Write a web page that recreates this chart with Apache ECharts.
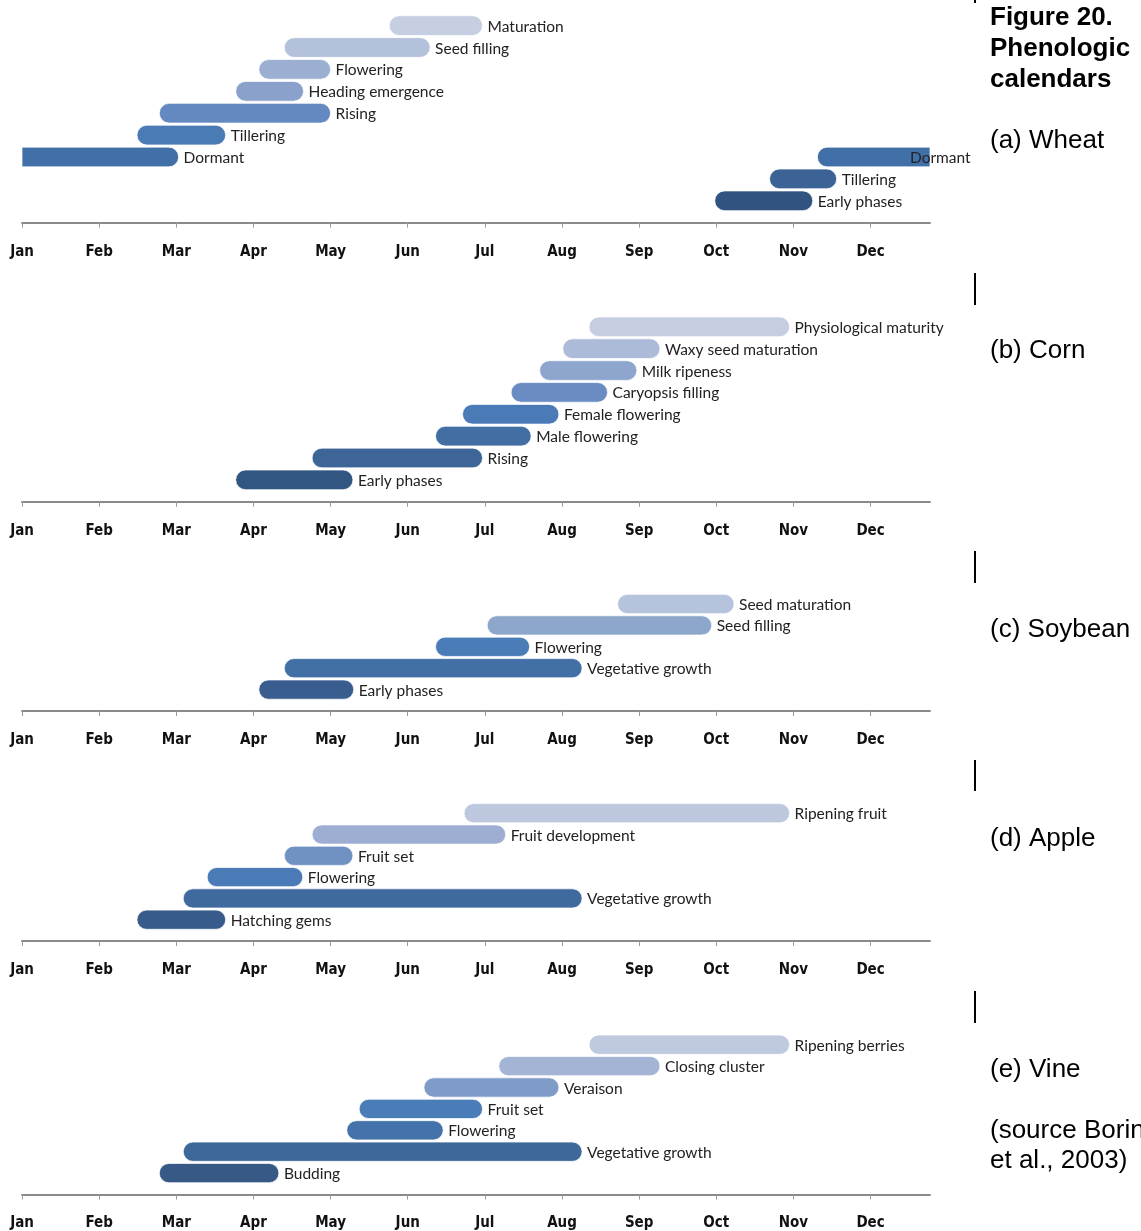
<!DOCTYPE html>
<html>
<head>
<meta charset="utf-8">
<script src="https://cdn.jsdelivr.net/npm/echarts@6/dist/echarts.min.js"></script>
<style>
html, body { margin: 0; padding: 0; background: #fff; }
#main { width: 1141px; height: 1231px; }
</style>
</head>
<body>
<div id="main"></div>
<script>
// tick labels
var months = ["Jan", "Feb", "Mar", "Apr", "May", "Jun", "Jul", "Aug", "Sep", "Oct", "Nov", "Dec"];
var xMax = 11.77; // axis ends a bit before the end of Dec

// phases: start / end in months from 1 Jan, row 0 = bottom row
var wheatNames = ["Early phases", "Tillering", "Dormant", "Dormant", "Tillering", "Rising", "Heading emergence", "Flowering", "Seed filling", "Maturation"];
var wheatStart = [8.98, 9.69, 0, 10.31, 1.49, 1.78, 2.77, 3.07, 3.40, 4.76];
var wheatEnd = [10.25, 10.56, 2.03, 12, 2.64, 4.00, 3.65, 4.00, 5.29, 5.97];
var wheatRow = [0, 1, 2, 2, 3, 4, 5, 6, 7, 8];

var cornNames = ["Early phases", "Rising", "Male flowering", "Female flowering", "Caryopsis filling", "Milk ripeness", "Waxy seed maturation", "Physiological maturity"];
var cornStart = [2.77, 3.76, 5.36, 5.71, 6.34, 6.71, 7.01, 7.35];
var cornEnd = [4.29, 5.97, 6.60, 6.96, 7.59, 7.97, 8.27, 9.95];
var cornRow = [0, 1, 2, 3, 4, 5, 6, 7];

var soyNames = ["Early phases", "Vegetative growth", "Flowering", "Seed filling", "Seed maturation"];
var soyStart = [3.07, 3.40, 5.36, 6.03, 7.72];
var soyEnd = [4.30, 7.26, 6.58, 8.94, 9.23];
var soyRow = [0, 1, 2, 3, 4];

var appleNames = ["Hatching gems", "Vegetative growth", "Flowering", "Fruit set", "Fruit development", "Ripening fruit"];
var appleStart = [1.49, 2.09, 2.40, 3.40, 3.76, 5.73];
var appleEnd = [2.64, 7.26, 3.64, 4.29, 6.27, 9.95];
var appleRow = [0, 1, 2, 3, 4, 5];

var vineNames = ["Budding", "Vegetative growth", "Flowering", "Fruit set", "Veraison", "Closing cluster", "Ripening berries"];
var vineStart = [1.78, 2.09, 4.21, 4.37, 5.21, 6.18, 7.35];
var vineEnd = [3.33, 7.26, 5.46, 5.97, 6.96, 8.27, 9.95];
var vineRow = [0, 1, 2, 3, 4, 5, 6];

// colours (dark at bottom, light at top)
var wheatColors = ["#30547f", "#3b6396", "#416fa8", "#416fa8", "#4a7bb5", "#6389c0", "#8aa2cb", "#9bafd3", "#b4c1db", "#c6cfe2"];
var cornColors = ["#325682", "#3d6597", "#436ea4", "#4a7bb6", "#6a8cc2", "#8ea6cd", "#acbbd8", "#c5cde1"];
var soyColors = ["#3a5d8f", "#4270a6", "#4a7db8", "#8da6cc", "#b6c3dc"];
var appleColors = ["#375b8a", "#3f6a9e", "#4a7bb6", "#7092c3", "#9daed2", "#bdc8de"];
var vineColors = ["#365986", "#3e6899", "#4473ab", "#4a7db8", "#7f9cc8", "#a3b4d4", "#bfc9df"];

var crops = [
  { names: wheatNames, start: wheatStart, end: wheatEnd, row: wheatRow, colors: wheatColors, rows: 9, axisY: 222.7, step: 21.9 },
  { names: cornNames, start: cornStart, end: cornEnd, row: cornRow, colors: cornColors, rows: 8, axisY: 501.7, step: 21.86 },
  { names: soyNames, start: soyStart, end: soyEnd, row: soyRow, colors: soyColors, rows: 5, axisY: 711, step: 21.4 },
  { names: appleNames, start: appleStart, end: appleEnd, row: appleRow, colors: appleColors, rows: 6, axisY: 941, step: 21.3 },
  { names: vineNames, start: vineStart, end: vineEnd, row: vineRow, colors: vineColors, rows: 7, axisY: 1196, step: 21.6 }
];

var labelFont = "15.5px Lato, 'Liberation Sans', sans-serif";
var axisFont = "'DejaVu Sans Condensed', 'Liberation Sans', Arial, sans-serif";

function makeRender(crop) {
  return function (params, api) {
    var s = api.value(0), e = api.value(1), row = api.value(2), i = api.value(3);
    var p0 = api.coord([Math.max(s, 0), row]);
    var p1 = api.coord([Math.min(e, xMax), row]);
    var h = api.size([0, 1])[1] * 0.9;
    var r = h / 2;
    var rl = s <= 0 ? 0 : r;
    var rr = e >= xMax ? 0 : r;
    // clipped bar: label sits over its end
    var lx = e >= xMax ? p1[0] - 20 : p1[0] + 5;
    return {
      type: "group",
      children: [
        {
          type: "rect",
          shape: { x: p0[0], y: p0[1] - h / 2, width: p1[0] - p0[0], height: h, r: [rl, rr, rr, rl] },
          style: { fill: crop.colors[i], stroke: "rgba(255,255,255,0.7)", lineWidth: 1 }
        },
        {
          type: "text",
          x: lx,
          y: p0[1] + 1,
          style: { text: crop.names[i], fill: "#222", font: labelFont, align: "left", verticalAlign: "middle", textAlign: "left", textVerticalAlign: "middle" }
        }
      ]
    };
  };
}

var grids = [], xAxes = [], yAxes = [], series = [];
crops.forEach(function (c, k) {
  var height = (c.rows + 0.5) * c.step;
  grids.push({ left: 22, right: 1141 - 930, top: c.axisY - height, height: height });
  xAxes.push({
    type: "value",
    gridIndex: k,
    min: 0,
    max: xMax,
    interval: 1,
    splitLine: { show: false },
    axisLine: { onZero: false, lineStyle: { color: "#8a8a8a", width: 2 } },
    axisTick: { show: true, length: 5, lineStyle: { color: "#9a9a9a", width: 1 } },
    axisLabel: {
      margin: 21.5,
      color: "#111",
      fontSize: 15,
      fontWeight: "bold",
      fontFamily: axisFont,
      showMaxLabel: false,
      formatter: function (v) { return v % 1 === 0 && months[v] ? months[v] : ""; }
    }
  });
  yAxes.push({ type: "value", gridIndex: k, min: -1, max: c.rows - 0.5, show: false });
  var data = [];
  for (var i = 0; i < c.names.length; i++) {
    data.push([c.start[i], c.end[i], c.row[i], i]);
  }
  series.push({
    type: "custom",
    xAxisIndex: k,
    yAxisIndex: k,
    renderItem: makeRender(c),
    encode: { x: [0, 1], y: 2 },
    clip: false,
    data: data
  });
});

var sideFont = "'Liberation Sans', Arial, sans-serif";
function sideText(txt, y, bold) {
  return {
    type: "text",
    x: 990,
    y: y,
    style: { text: txt, fill: "#000", font: (bold ? "bold " : "") + "26px " + sideFont, verticalAlign: "middle", textVerticalAlign: "middle" }
  };
}
function bar(y1, y2) {
  return { type: "rect", shape: { x: 974, y: y1, width: 2, height: y2 - y1 }, style: { fill: "#000" } };
}

var myChart = echarts.init(document.getElementById("main"), null, { renderer: "canvas" });
var option = {
  backgroundColor: "#fff",
  animation: false,
  grid: grids,
  xAxis: xAxes,
  yAxis: yAxes,
  series: series,
  graphic: [
    sideText("Figure 20.", 18, true),
    sideText("Phenologic", 49, true),
    sideText("calendars", 80, true),
    sideText("(a) Wheat", 141, false),
    sideText("(b) Corn", 351, false),
    sideText("(c) Soybean", 630, false),
    sideText("(d) Apple", 839, false),
    sideText("(e) Vine", 1070, false),
    sideText("(source Borin", 1131, false),
    sideText("et al., 2003)", 1161, false),
    bar(0, 3),
    bar(273, 305),
    bar(551, 583),
    bar(760, 791),
    bar(991, 1023)
  ]
};
myChart.setOption(option);
</script>
</body>
</html>
